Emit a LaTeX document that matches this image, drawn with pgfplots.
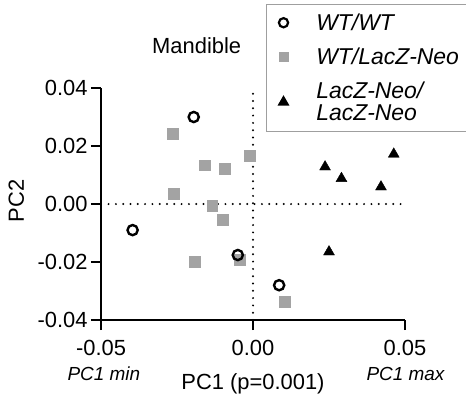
\documentclass[border=0pt]{standalone}
\usepackage{pgfplots}
\pgfplotsset{compat=1.18}
\usepackage{fontspec}
\setmainfont{Liberation Sans}
\definecolor{sqgray}{RGB}{163,163,163}
\pgfplotsset{pointlegend/.style={legend image code/.code={\draw[##1] plot coordinates {(0bp,0bp)};}}}
\begin{document}
\begin{tikzpicture}
\begin{axis}[
  scale only axis, width=304bp, height=232bp, anchor=south west, at={(0,0)},
  xmin=-0.05, xmax=0.05, ymin=-0.04, ymax=0.04,
  axis x line*=bottom, axis y line*=left,
  axis line style={line width=2bp, black},
  tick style={line width=2bp, black},
  tick align=outside, major tick length=10bp,
  xtick={-0.05,0,0.05}, ytick={-0.04,-0.02,0,0.02,0.04},
  scaled ticks=false, clip=false,
  tick label style={font=\fontsize{22}{26}\selectfont},
  xticklabel style={yshift=-7bp, /pgf/number format/fixed, /pgf/number format/fixed zerofill, /pgf/number format/precision=2, /pgf/number format/assume math mode=true},
  yticklabel style={/pgf/number format/fixed, /pgf/number format/fixed zerofill, /pgf/number format/precision=2, /pgf/number format/assume math mode=true},
  xlabel={PC1 (p=0.001)}, ylabel={PC2},
  label style={font=\fontsize{22}{26}\selectfont},
  x label style={at={(axis description cs:0.5,-0.3017)}, anchor=base},
  y label style={at={(axis description cs:-0.2533,0.513)}, anchor=base},
  legend style={at={(axis description cs:0.5428,1.362)}, anchor=north west,
    draw=gray!75, line width=1.3bp, fill=white, inner xsep=12bp, inner ysep=9bp,
    row sep=16bp, column sep=28bp, font=\fontsize{23}{20.5}\selectfont\itshape,
    nodes={inner sep=0bp}, cells={anchor=west, align=left}},
]
\addplot[forget plot, black, line width=2.2bp, line cap=round, dash pattern=on 0bp off 7.3bp] coordinates {(0,-0.04) (0,0.04)};
\addplot[forget plot, black, line width=2.2bp, line cap=round, dash pattern=on 0bp off 7.3bp] coordinates {(-0.0475,0) (0.05,0)};
% WT/LacZ-Neo
\addplot[forget plot, only marks, mark=square*, mark size=5.4bp, mark options={draw=sqgray, fill=sqgray, line width=0.4bp}] coordinates {
(-0.0263,0.0242) (-0.0158,0.0134) (-0.0093,0.0122) (-0.0011,0.0166) (-0.0260,0.0036)
(-0.0134,-0.0005) (-0.0099,-0.0055) (-0.0192,-0.0199) (-0.0043,-0.0193) (0.0103,-0.0337)};
% WT/WT
\addplot[forget plot, only marks, mark=o, mark size=5.1bp, line width=2.4bp, black] coordinates {
(-0.0195,0.0300) (-0.0396,-0.0090) (-0.0050,-0.0176) (0.0086,-0.0280)};
% LacZ-Neo/LacZ-Neo
\addplot[forget plot, only marks, mark=triangle*, mark size=6.3bp, black] coordinates {
(0.0237,0.0128) (0.0291,0.0088) (0.0463,0.0172) (0.0421,0.0059) (0.0250,-0.0165)};
\addlegendimage{only marks, mark=o, mark size=4.6bp, line width=2.2bp, black, pointlegend}
\addlegendentry{WT/WT}
\addlegendimage{only marks, mark=square*, mark size=4.8bp, mark options={draw=sqgray, fill=sqgray, line width=0.4bp}, pointlegend}
\addlegendentry{WT/LacZ-Neo}
\addlegendimage{only marks, mark=triangle*, mark size=5.6bp, black, pointlegend}
\addlegendentry{LacZ-Neo/\\[2bp]LacZ-Neo}
\end{axis}
\node[anchor=base, font=\fontsize{22}{26}\selectfont] at (95.7bp,266.7bp) {Mandible};
\node[anchor=base, font=\fontsize{19}{22}\selectfont\itshape] at (2.8bp,-60bp) {PC1 min};
\node[anchor=base, font=\fontsize{19}{22}\selectfont\itshape] at (304.5bp,-60bp) {PC1 max};
\pgfresetboundingbox
\path[use as bounding box] (-101bp,-82bp) rectangle (365bp,320bp);
\end{tikzpicture}
\end{document}
